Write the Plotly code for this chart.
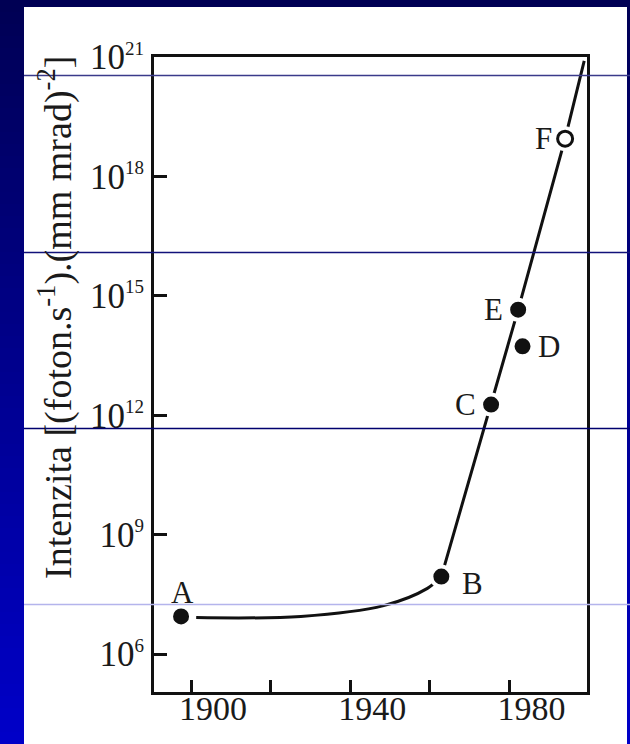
import math
import plotly.graph_objects as go

# ---- data ----
point_labels = ["A", "B", "C", "D", "E", "F"]
point_years = [1897.5, 1962.9, 1975.4, 1983.3, 1982.2, 1994.0]
point_values = [8.9e6, 8.9e7, 1.86e12, 5.4e13, 4.5e14, 8.9e18]
point_filled = [True, True, True, True, True, False]

curve_years = [1901.3, 1927.6, 1948.4, 1959.4, 1962.9]
curve_values = [8.3e6, 8.9e6, 1.66e7, 4.5e7, 8.9e7]

trend_years = [1962.9, 1975.4, 1982.2, 1994.0, 1998.8]
trend_values = [8.9e7, 1.86e12, 4.5e14, 8.9e18, 8.0e20]

x_tick_vals = [1900, 1920, 1940, 1960, 1980]
x_tick_text = ["1900", "", "1940", "", "1980"]
y_tick_exps = [6, 9, 12, 15, 18, 21]

# label offsets (px) relative to the points
label_dx = [1, 31, -26, 26, -25, -22]
label_dy = [24, -7, 0, 0, 0, 0]

W, H = 630, 744
L, R, T, B = 154, 43, 57, 52
PW, PH = W - L - R, H - T - B


def px_to_paper_x(px):
    return (px - L) / PW


def px_to_paper_y(py):
    return (H - B - py) / PH


TXT = "#1a1a1a"
FONT = "Liberation Serif"

fig = go.Figure()

fig.add_trace(go.Scatter(x=curve_years, y=curve_values, mode="lines",
                         line=dict(color="#111111", width=3, shape="spline"),
                         hoverinfo="skip", showlegend=False))
fig.add_trace(go.Scatter(x=trend_years, y=trend_values, mode="lines",
                         line=dict(color="#111111", width=3),
                         hoverinfo="skip", showlegend=False))

fy = [x for x, f in zip(point_years, point_filled) if f]
fv = [v for v, f in zip(point_values, point_filled) if f]
oy = [x for x, f in zip(point_years, point_filled) if not f]
ov = [v for v, f in zip(point_values, point_filled) if not f]
fig.add_trace(go.Scatter(x=fy, y=fv, mode="markers",
                         marker=dict(size=20, color="#111111",
                                     line=dict(color="white", width=4)),
                         showlegend=False))
fig.add_trace(go.Scatter(x=oy, y=ov, mode="markers",
                         marker=dict(size=24, color="white",
                                     line=dict(color="white", width=1)),
                         showlegend=False))
fig.add_trace(go.Scatter(x=oy, y=ov, mode="markers",
                         marker=dict(size=15, color="white",
                                     line=dict(color="#111111", width=3)),
                         showlegend=False))

for lab, x, v, dx, dy in zip(point_labels, point_years, point_values, label_dx, label_dy):
    fig.add_annotation(x=x, y=math.log10(v), xref="x", yref="y", text=lab,
                       showarrow=False, xshift=dx, yshift=dy,
                       xanchor="center", yanchor="middle",
                       font=dict(family=FONT, size=31, color=TXT))

# y axis title
fig.add_annotation(x=px_to_paper_x(55), y=px_to_paper_y(318), xref="paper", yref="paper",
                   text="Intenzita [(foton.s<sup>-1</sup>).(mm mrad)<sup>-2</sup>]",
                   textangle=-90, showarrow=False, xanchor="center", yanchor="middle",
                   font=dict(family=FONT, size=38, color=TXT))

shapes = []
# gradient background bands
nb = 62
top_c = (0, 0, 84)
bot_c = (0, 0, 200)
for i in range(nb):
    t = i / (nb - 1)
    c = tuple(int(round(a + (b - a) * t)) for a, b in zip(top_c, bot_c))
    y0 = i * H / nb
    y1 = (i + 1) * H / nb + 1
    shapes.append(dict(type="rect", xref="paper", yref="paper",
                       x0=px_to_paper_x(0), x1=px_to_paper_x(W),
                       y0=px_to_paper_y(y1), y1=px_to_paper_y(y0),
                       fillcolor="rgb(%d,%d,%d)" % c, line=dict(width=0),
                       layer="below"))
# white slide area
shapes.append(dict(type="rect", xref="paper", yref="paper",
                   x0=px_to_paper_x(24), x1=px_to_paper_x(627),
                   y0=px_to_paper_y(H + 2), y1=px_to_paper_y(7),
                   fillcolor="white", line=dict(width=0), layer="below"))
# slide template horizontal lines
for py, col in [(75.5, "#3a3a8a"), (252.5, "#12127a"), (428.5, "#00006e"), (604.5, "#b4b4ec")]:
    shapes.append(dict(type="line", xref="paper", yref="paper",
                       x0=px_to_paper_x(24), x1=px_to_paper_x(W),
                       y0=px_to_paper_y(py), y1=px_to_paper_y(py),
                       line=dict(color=col, width=1.3), layer="above"))

y_tick_vals = [10.0 ** e for e in y_tick_exps]
y_tick_text = ['10<sup><span style="font-size:19px">%d</span></sup>' % e for e in y_tick_exps]

fig.update_layout(
    width=W, height=H,
    margin=dict(l=L, r=R, t=T, b=B, pad=0),
    paper_bgcolor="rgb(0,0,84)",
    plot_bgcolor="white",
    shapes=shapes,
    showlegend=False,
    xaxis=dict(range=[1890.7, 1999.5], tickvals=x_tick_vals, ticktext=x_tick_text,
               ticks="inside", ticklen=12, tickwidth=2.5, tickcolor="#111111",
               showline=True, linewidth=3, linecolor="#111111", mirror=True,
               showgrid=False, zeroline=False, ticklabelshift=22,
               ticklabelstandoff=-16,
               tickfont=dict(family=FONT, size=34, color=TXT)),
    yaxis=dict(type="log", range=[5.05, 21.0], tickvals=y_tick_vals, ticktext=y_tick_text,
               ticks="inside", ticklen=13, tickwidth=2.5, tickcolor="#111111",
               showline=True, linewidth=3, linecolor="#111111", mirror=True,
               showgrid=False, zeroline=False,
               tickfont=dict(family=FONT, size=35, color=TXT)),
)

fig.write_html(
    "out.html",
    config={"displayModeBar": False},
    post_script="document.documentElement.style.overflow='hidden';"
                "document.documentElement.style.height='744px';"
                "document.body.style.margin='0';document.body.style.padding='0';"
                "document.body.style.overflow='hidden';document.body.style.height='744px';"
                "document.body.style.background='rgb(0,0,84)';",
)
